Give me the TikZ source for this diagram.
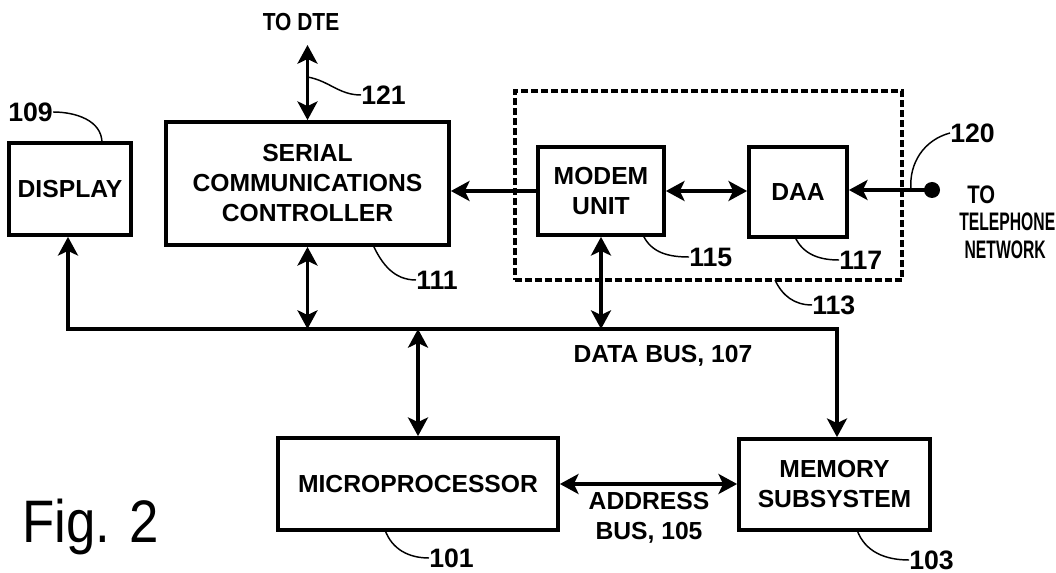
\documentclass[tikz,border=0pt]{standalone}
\usepackage{fontspec}
\setmainfont{Liberation Sans}
\usetikzlibrary{arrows.meta}
\tikzset{
  blk/.style={draw,line width=2.8pt,align=center,inner sep=0pt},
  grp/.style={draw,line width=2.5pt,dash pattern=on 5pt off 2.5pt},
  arr/.style={line width=2.8pt,->},
  biarr/.style={line width=2.8pt,<->},
  lead/.style={line width=1.1pt},
  num/.style={anchor=west,inner sep=0pt,font=\fontsize{20}{24}\selectfont\bfseries}
}

\begin{document}
\begin{tikzpicture}[x=0.75pt,y=0.75pt,>={Stealth[length=14pt,width=15pt,inset=3.5pt]},font=\fontsize{18.5}{22.5}\selectfont\bfseries]
  \useasboundingbox (0,0) rectangle (1056,-573);

  \node[blk,minimum width=91.5pt,minimum height=69pt] (disp) at (70,-189) {DISPLAY};
  \node[blk,minimum width=212.25pt,minimum height=92.25pt] (scc) at (307.5,-183.5) {SERIAL\\COMMUNICATIONS\\CONTROLLER};
  \node[blk,minimum width=94.5pt,minimum height=66pt] (modem) at (601,-191) {MODEM\\UNIT};
  \node[blk,minimum width=73.5pt,minimum height=67.5pt] (daa) at (798,-192) {DAA};
  \node[grp,minimum width=290.25pt,minimum height=141.75pt] (grp) at (708.5,-185.5) {};
  \node[blk,minimum width=210pt,minimum height=69pt] (cpu) at (418,-484) {MICROPROCESSOR};
  \node[blk,minimum width=143.25pt,minimum height=68.25pt] (mem) at (834.5,-484.5) {MEMORY\\SUBSYSTEM};

  \node (dte) at (301,-22) {\scalebox{0.85}[1]{TO DTE}};
  \node[circle,fill,inner sep=0pt,minimum size=12pt] (jack) at (932,-190) {};
  \node[align=left,anchor=west,inner sep=0pt,font=\fontsize{19}{20.6}\selectfont\bfseries] (net) at (959,-222)
    {\hspace*{6pt}\scalebox{0.8}[1]{TO}\\\scalebox{0.62}[1]{TELEPHONE}\\\hspace*{4pt}\scalebox{0.62}[1]{NETWORK}};
  \node (dbus) at (663,-356) {DATA BUS, 107};
  \node[align=center] (abus) at (649,-518) {ADDRESS\\BUS, 105};
  \node[anchor=base west,inner sep=0pt,font=\fontsize{45}{50}\selectfont] (fig) at (22,-542) {\scalebox{0.88}[1]{Fig. 2}};

  \node[num] (n109) at (8,-112) {109};
  \node[num] (n121) at (361,-95) {121};
  \node[num] (n111) at (416,-280) {111};
  \node[num] (n115) at (689,-257) {115};
  \node[num] (n117) at (839,-260) {117};
  \node[num] (n113) at (812,-305) {113};
  \node[num] (n120) at (950,-133) {120};
  \node[num] (n101) at (429,-558) {101};
  \node[num] (n103) at (909,-560) {103};

  \coordinate (busl) at (68,-329);
  \coordinate (busr) at (837,-329);
  \coordinate (dteend) at (307.5,-45);
  \coordinate (a121) at (307.5,-77);
  \coordinate (e109) at (102,-143);
  \coordinate (e111) at (373,-245);
  \coordinate (e115) at (643,-235);
  \coordinate (e117) at (795,-237);
  \coordinate (e113) at (775,-280);
  \coordinate (e120) at (911,-190);
  \coordinate (e101) at (385,-530);
  \coordinate (e103) at (857,-530);

  \draw[biarr] (busl |- disp.south) -- (busl) -- (busr) -- (busr |- mem.north);
  \draw[biarr] (scc.north) -- (dteend);
  \draw[biarr] (scc.south) -- (scc.south |- busl);
  \draw[arr] (modem.west) -- (modem.west -| scc.east);
  \draw[biarr] (modem.east) -- (modem.east -| daa.west);
  \draw[biarr] (modem.south) -- (modem.south |- busl);
  \draw[arr] (jack.center) -- (jack.center -| daa.east);
  \draw[biarr] (cpu.north) -- (cpu.north |- busl);
  \draw[biarr] (cpu.east) -- (cpu.east -| mem.west);

  \draw[lead] (n109.east) to[out=0,in=90] (e109);
  \draw[lead] (a121) to[out=-10,in=180] (n121.west);
  \draw[lead] (e111) to[out=-65,in=180] (n111.west);
  \draw[lead] (e115) to[out=-65,in=180] (n115.west);
  \draw[lead] (e117) to[out=-65,in=180] (n117.west);
  \draw[lead] (e113) to[out=-65,in=180] (n113.west);
  \draw[lead] (e120) to[out=95,in=195] (n120.west);
  \draw[lead] (e101) to[out=-70,in=180] (n101.west);
  \draw[lead] (e103) to[out=-70,in=180] (n103.west);
\end{tikzpicture}
\end{document}
